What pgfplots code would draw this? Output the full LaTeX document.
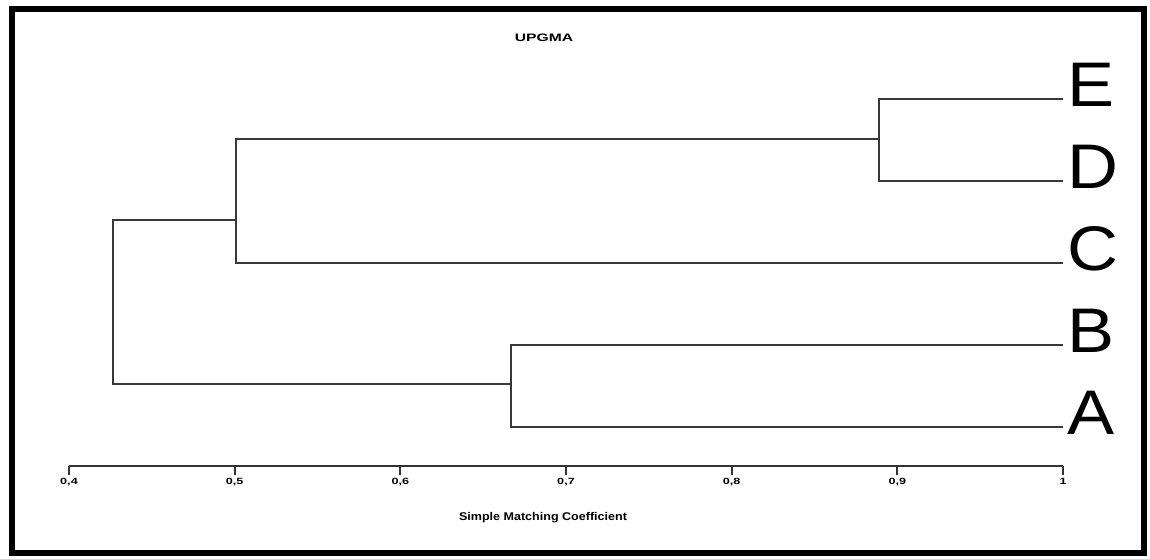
\documentclass[border=0pt]{standalone}
\usepackage{fontspec}
\setmainfont{Liberation Sans}
\usepackage{graphicx}
\usepackage{pgfplots}
\pgfplotsset{compat=1.18}

% 1 px of the reference = 0.5pt
\newcommand{\leaf}[1]{\scalebox{1.12}[1]{\fontsize{31.5}{32}\selectfont #1}}
\newcommand{\tl}[1]{\scalebox{1.4}[1]{\fontsize{4.5}{5}\selectfont\bfseries #1}}

\begin{document}
\begin{tikzpicture}
\useasboundingbox (0,0) rectangle (575pt,-279pt);

\begin{axis}[
    scale only axis,
    width=497pt, height=204pt,
    at={(34.5pt,-233pt)}, anchor=south west,
    xmin=0.4, xmax=1,
    ymin=0.524, ymax=5.5,
    axis x line=bottom,
    axis y line=right,
    axis line style={-, line width=1pt, black!80},
    y axis line style={draw=none},
    tick align=outside,
    major tick length=4.5pt,
    xtick={0.4,0.5,0.6,0.7,0.8,0.9,1},
    xticklabels={\tl{0,4},\tl{0,5},\tl{0,6},\tl{0,7},\tl{0,8},\tl{0,9},\tl{1}},
    x tick style={line width=1pt, black!80},
    xticklabel style={inner sep=0pt, yshift=-1.5pt},
    ytick={1,2,3,4,5},
    yticklabels={\leaf{A},\leaf{B},\leaf{C},\leaf{D},\leaf{E}},
    y tick style={draw=none},
    yticklabel style={anchor=base west, inner sep=0pt, xshift=-2.5pt, yshift=-4pt},
    clip=false,
    branch/.style={draw=black!78, line width=1pt, no marks},
]
% E-D
\addplot[branch] coordinates {(1,5) (0.889,5) (0.889,4) (1,4)};
% (ED)-C
\addplot[branch] coordinates {(0.889,4.51) (0.5008,4.51) (0.5008,3) (1,3)};
% A-B
\addplot[branch] coordinates {(1,2) (0.6667,2) (0.6667,1) (1,1)};
% root
\addplot[branch] coordinates {(0.5008,3.52) (0.4266,3.52) (0.4266,1.52) (0.6667,1.52)};
\end{axis}

\node[inner sep=0pt] at (272pt,-19pt) {\scalebox{1.45}[1]{\fontsize{5.4}{6}\selectfont\bfseries UPGMA}};
\node[inner sep=0pt] at (271.5pt,-259pt) {\scalebox{1.12}[1]{\fontsize{5.6}{6}\selectfont\bfseries Simple Matching Coefficient}};

\draw[line width=3pt] (5.75pt,-4.25pt) rectangle (571.75pt,-276.5pt);
\end{tikzpicture}
\end{document}
